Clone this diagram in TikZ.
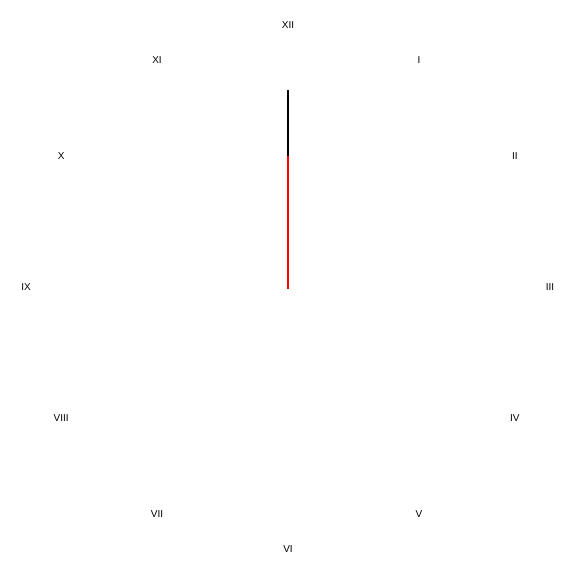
\documentclass[tikz,border=0pt]{standalone}
\usepackage{fontspec}
\setmainfont{Liberation Sans}
\usepackage{xcolor}
\definecolor{handred}{RGB}{255,0,0}
\usetikzlibrary{positioning}

\begin{document}
\begin{tikzpicture}[x=1pt,y=1pt,font=\fontsize{10}{12}\selectfont,
  numeral/.style={inner sep=0pt,text=black},
  hand/.style={line width=2pt,line cap=butt}]
% canvas
\useasboundingbox (-288,-289) rectangle (288,287);
\coordinate (hub) at (0,-1.5);
% dial numerals
\foreach \h/\txt in {1/I,2/II,3/III,4/IV,5/V,6/VI,7/VII,8/VIII,9/IX,10/X,11/XI,12/XII}
  \node[numeral] (h\h) at ({90-30*\h}:262) {\txt};
% hands
\coordinate (longtip) at (90:196.5);
\coordinate (shorttip) at (90:131);
\draw[hand,draw=black] (hub) -- (longtip);
\draw[hand,draw=handred] (hub) -- (shorttip);
\end{tikzpicture}
\end{document}
